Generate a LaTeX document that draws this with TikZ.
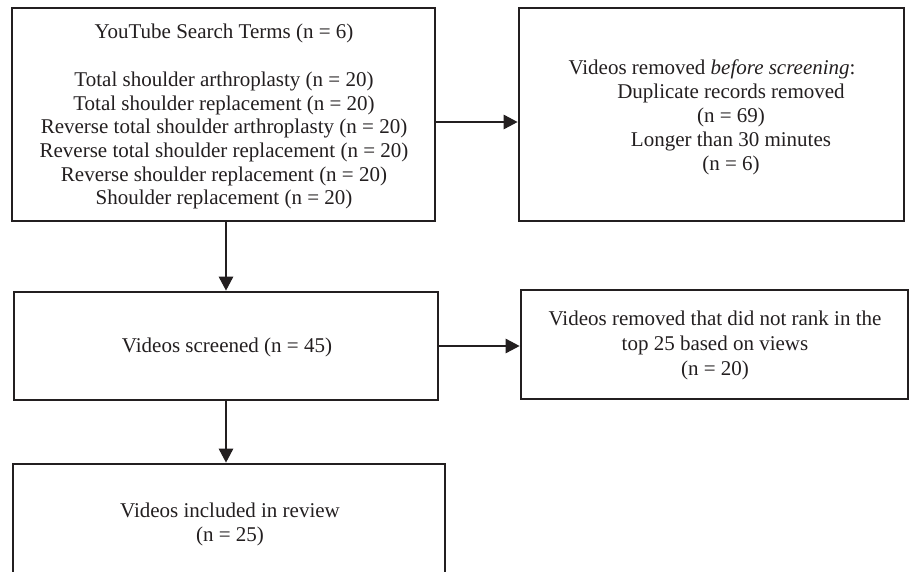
\documentclass[tikz,border=0pt]{standalone}
\usepackage{fontspec}
\setmainfont{Liberation Serif}
\usetikzlibrary{arrows.meta,calc}
\definecolor{ink}{HTML}{231F20}
\begin{document}
\begin{tikzpicture}[x=1pt,y=-1pt,
  box/.style={draw=ink,line width=2.6pt,inner sep=0pt,fill=white},
  txt/.style={text=ink,align=center,inner sep=0pt},
  arr/.style={draw=ink,line width=2.6pt,-{Triangle[length=14pt,width=14pt]}}]
\clip (0,0) rectangle (909,571);
\fill[white] (0,0) rectangle (909,571);
% boxes
\node[box,minimum width=423pt,minimum height=213pt] (b1) at (223.5,114.5) {};
\node[box,minimum width=385pt,minimum height=213pt] (b2) at (711.5,114.5) {};
\node[box,minimum width=424pt,minimum height=108pt] (b3) at (226,346) {};
\node[box,minimum width=387pt,minimum height=109pt] (b4) at (714.5,344.5) {};
\node[box,minimum width=432pt,minimum height=170pt] (b5) at (229,549) {};
% texts
\node[txt,font=\fontsize{21}{23.7}\selectfont] (t1) at (224,116.4) {YouTube Search Terms (n = 6)\\[24.7pt]
Total shoulder arthroplasty (n = 20)\\
Total shoulder replacement (n = 20)\\
Reverse total shoulder arthroplasty (n = 20)\\
Reverse total shoulder replacement (n = 20)\\
Reverse shoulder replacement (n = 20)\\
Shoulder replacement (n = 20)};
\node[txt,font=\fontsize{21}{24}\selectfont] (t2) at (712,117) {Videos removed \textit{before screening}:\\
\hspace*{38pt}Duplicate records removed\\
\hspace*{38pt}(n = 69)\\
\hspace*{38pt}Longer than 30 minutes\\
\hspace*{38pt}(n = 6)};
\node[txt,font=\fontsize{21}{24}\selectfont] (t3) at (227,347) {Videos screened (n = 45)};
\node[txt,font=\fontsize{21}{25}\selectfont] (t4) at (715,345) {Videos removed that did not rank in the\\
top 25 based on views\\
(n = 20)};
\node[txt,font=\fontsize{21}{24}\selectfont] (t5) at (230,524) {Videos included in review\\
(n = 25)};
% arrows
\draw[arr] ([yshift=-7.5pt]b1.east) -- ([yshift=-7.5pt]b2.west);
\draw[arr] (b1.south -| b3.north) -- (b3.north);
\draw[arr] (b3.east) -- (b3.east -| b4.west);
\draw[arr] (b3.south) -- (b3.south |- b5.north);
\end{tikzpicture}
\end{document}
